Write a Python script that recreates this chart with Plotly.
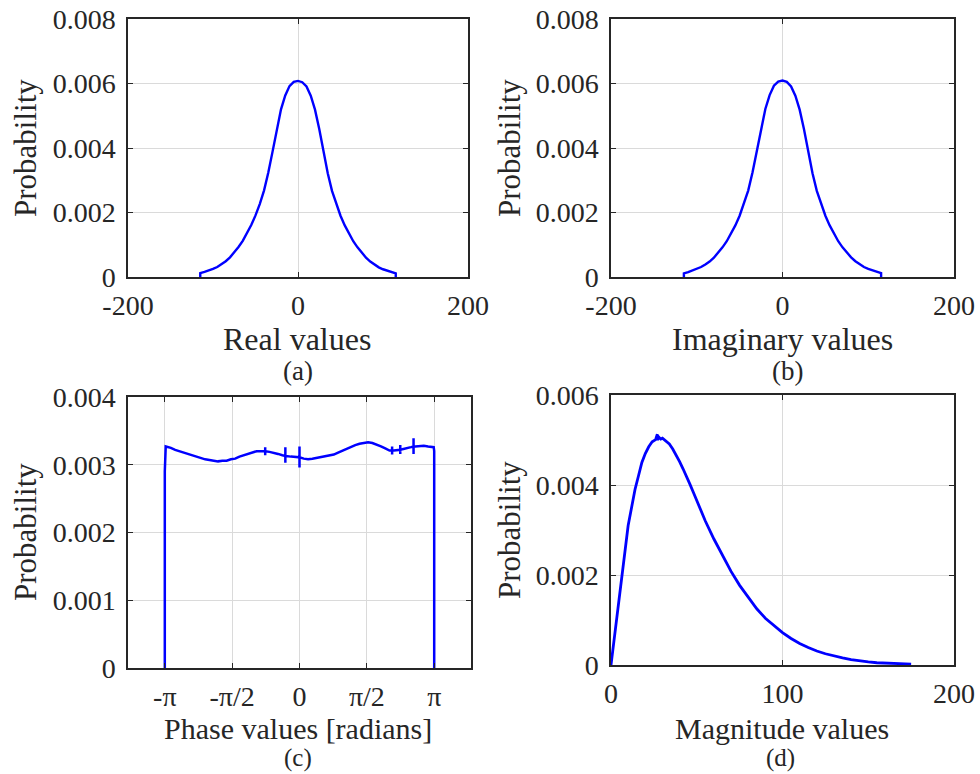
import math
import plotly.graph_objects as go

# ---------------- data ----------------
real_x = [-115, -115, -110, -105, -100, -95, -90, -85, -80, -75, -70, -65, -60, -55, -50, -45, -40, -35,
          -30, -25, -20, -15, -10, -5, 0, 5, 10, 15, 20, 25, 30, 35, 40, 45, 50, 55, 60, 65, 70, 75,
          80, 85, 90, 95, 100, 105, 110, 115, 115]
real_y = [0.0, 0.00012, 0.00016, 0.00020, 0.00025, 0.00031, 0.00039, 0.00049, 0.00061, 0.00076, 0.00093,
          0.00112, 0.00135, 0.00161, 0.00191, 0.00226, 0.00268, 0.00323, 0.00388, 0.00460, 0.00520,
          0.00563, 0.00592, 0.00605, 0.00608, 0.00604, 0.00591, 0.00562, 0.00519, 0.00459, 0.00387,
          0.00322, 0.00267, 0.00225, 0.00190, 0.00160, 0.00134, 0.00111, 0.00092, 0.00075, 0.00060,
          0.00048, 0.00038, 0.00030, 0.00024, 0.00019, 0.00015, 0.00011, 0.0]

imag_x = list(real_x)
imag_y = [0.0, 0.00011, 0.00015, 0.00020, 0.00025, 0.00031, 0.00039, 0.00048, 0.00060, 0.00075, 0.00092,
          0.00111, 0.00134, 0.00160, 0.00190, 0.00226, 0.00268, 0.00324, 0.00389, 0.00461, 0.00521,
          0.00564, 0.00593, 0.00606, 0.00609, 0.00605, 0.00591, 0.00562, 0.00519, 0.00459, 0.00387,
          0.00322, 0.00267, 0.00225, 0.00190, 0.00160, 0.00134, 0.00111, 0.00092, 0.00075, 0.00061,
          0.00049, 0.00039, 0.00031, 0.00025, 0.00020, 0.00016, 0.00012, 0.0]

phase_x = [-3.1416, -3.1416, -3.12, -3.0, -2.9, -2.8, -2.7, -2.6, -2.5, -2.4, -2.3, -2.2, -2.1, -2.0, -1.9,
           -1.8, -1.7, -1.6, -1.5, -1.4, -1.3, -1.2, -1.1, -1.0, -0.9, -0.8, -0.8, -0.8, -0.8, -0.7, -0.6,
           -0.5, -0.4, -0.33, -0.33, -0.33, -0.33, -0.2, -0.1, 0.0, 0.0, 0.0, 0.0, 0.1, 0.2, 0.3, 0.4, 0.5,
           0.6, 0.7, 0.8, 0.9, 1.0, 1.1, 1.2, 1.3, 1.4, 1.5, 1.6, 1.7, 1.8, 1.9, 2.0, 2.1, 2.16, 2.16, 2.16,
           2.16, 2.2, 2.3, 2.35, 2.35, 2.35, 2.35, 2.4, 2.5, 2.6, 2.66, 2.66, 2.66, 2.66, 2.7, 2.8, 2.9,
           3.0, 3.1, 3.13, 3.1416, 3.1416]
phase_y = [0.0, 0.00290, 0.00327, 0.00325, 0.00322, 0.00320, 0.00318, 0.00315, 0.00313, 0.00311, 0.00309,
           0.00308, 0.00307, 0.00306, 0.00305, 0.00306, 0.00306, 0.00308, 0.00309, 0.00312, 0.00314,
           0.00317, 0.00319, 0.00320, 0.00320, 0.00320, 0.00326, 0.00314, 0.00320, 0.00319, 0.00318,
           0.00316, 0.00314, 0.00313, 0.00326, 0.00303, 0.00313, 0.00312, 0.00312, 0.00311, 0.00327,
           0.00296, 0.00311, 0.00309, 0.00308, 0.00309, 0.00310, 0.00311, 0.00312, 0.00313, 0.00315,
           0.00318, 0.00321, 0.00324, 0.00327, 0.00329, 0.00331, 0.00332, 0.00333, 0.00332, 0.00330,
           0.00327, 0.00324, 0.00321, 0.00321, 0.00327, 0.00315, 0.00321, 0.00321, 0.00322, 0.00322,
           0.00329, 0.00316, 0.00322, 0.00323, 0.00325, 0.00326, 0.00327, 0.00339, 0.00316, 0.00327,
           0.00327, 0.00328, 0.00328, 0.00327, 0.00327, 0.00326, 0.00320, 0.0]

mag_x = [0, 2, 4, 6, 8, 10, 12, 14, 16, 18, 20, 22, 24, 26, 27, 27, 28, 29, 30, 32, 34, 36, 38, 40, 42,
         44, 46, 48, 50, 55, 60, 65, 70, 75, 80, 85, 90, 95, 100, 105, 110, 115, 120, 125, 130, 135,
         140, 145, 150, 155, 160, 165, 170, 175]
mag_y = [0.0, 0.0006, 0.0012, 0.0019, 0.0025, 0.0031, 0.0035, 0.0039, 0.0042, 0.0045, 0.0047, 0.00485,
         0.00496, 0.00501, 0.00513, 0.00500, 0.00506, 0.00502, 0.00504, 0.00498, 0.00491, 0.00480,
         0.00467, 0.00452, 0.00436, 0.00420, 0.00402, 0.00384, 0.00366, 0.00320, 0.00280, 0.00243,
         0.00208, 0.00177, 0.00150, 0.00125, 0.00104, 0.00087, 0.00072, 0.00059, 0.00048, 0.00039,
         0.00031, 0.00025, 0.00020, 0.00016, 0.00012, 0.00009, 0.00007, 0.00005, 0.00004, 0.00003,
         0.00002, 0.00002]

prob_ticks_a = [0, 0.002, 0.004, 0.006, 0.008]
prob_text_a = ["0", "0.002", "0.004", "0.006", "0.008"]
prob_ticks_c = [0, 0.001, 0.002, 0.003, 0.004]
prob_text_c = ["0", "0.001", "0.002", "0.003", "0.004"]
prob_ticks_d = [0, 0.002, 0.004, 0.006]
prob_text_d = ["0", "0.002", "0.004", "0.006"]
phase_ticks = [-math.pi, -math.pi / 2, 0, math.pi / 2, math.pi]
phase_text = ["-π", "-π/2", "0", "π/2", "π"]

# ---------------- figure ----------------
W, H = 980, 774
FONT = "Liberation Serif, Times New Roman, serif"
TXT = "#262626"
BLUE = "#0000ff"

fig = go.Figure()
fig.add_trace(go.Scatter(x=real_x, y=real_y, mode="lines", line=dict(color=BLUE, width=2.4),
                         xaxis="x", yaxis="y", showlegend=False))
fig.add_trace(go.Scatter(x=imag_x, y=imag_y, mode="lines", line=dict(color=BLUE, width=2.4),
                         xaxis="x2", yaxis="y2", showlegend=False))
fig.add_trace(go.Scatter(x=phase_x, y=phase_y, mode="lines", line=dict(color=BLUE, width=2.5),
                         xaxis="x3", yaxis="y3", showlegend=False))
fig.add_trace(go.Scatter(x=mag_x, y=mag_y, mode="lines", line=dict(color=BLUE, width=2.8),
                         xaxis="x4", yaxis="y4", showlegend=False))


def px2fx(p):
    return p / W


def py2fy(p):
    return 1 - p / H


common = dict(showline=True, linecolor=TXT, linewidth=1.5, mirror="ticks", ticks="inside",
              ticklen=5, tickwidth=1.2, tickcolor=TXT, showgrid=True, gridcolor="#dadada",
              gridwidth=1, zeroline=False, automargin=False,
              tickfont=dict(family=FONT, size=28, color=TXT))

panels = [
    # (x-left, x-right, y-top, y-bottom) in pixels
    (128, 468, 19, 277),
    (611, 954, 19, 277),
    (128, 471, 397, 668),
    (611, 954, 395, 665),
]

axes_cfg = [
    (dict(range=[-200, 200], tickvals=[-200, 0, 200], ticktext=["-200", "0", "200"]),
     dict(range=[0, 0.008], tickvals=prob_ticks_a, ticktext=prob_text_a)),
    (dict(range=[-200, 200], tickvals=[-200, 0, 200], ticktext=["-200", "0", "200"]),
     dict(range=[0, 0.008], tickvals=prob_ticks_a, ticktext=prob_text_a)),
    (dict(range=[-4, 4], tickvals=phase_ticks, ticktext=phase_text),
     dict(range=[0, 0.004], tickvals=prob_ticks_c, ticktext=prob_text_c)),
    (dict(range=[0, 200], tickvals=[0, 100, 200], ticktext=["0", "100", "200"]),
     dict(range=[0, 0.006], tickvals=prob_ticks_d, ticktext=prob_text_d)),
]

layout = dict(width=W, height=H, margin=dict(l=0, r=0, t=0, b=0), paper_bgcolor="white",
              plot_bgcolor="white", showlegend=False)
for i, ((xl, xr, yt, yb), (xc, yc)) in enumerate(zip(panels, axes_cfg)):
    n = "" if i == 0 else str(i + 1)
    xa = dict(common, **xc)
    xa.update(domain=[px2fx(xl), px2fx(xr)], anchor="y" + n, ticklabelstandoff=3)
    ya = dict(common, **yc)
    ya.update(domain=[py2fy(yb), py2fy(yt)], anchor="x" + n, ticklabelstandoff=5)
    layout["xaxis" + n] = xa
    layout["yaxis" + n] = ya
fig.update_layout(**layout)

# axis titles and panel letters
labels = [
    ("Real values", 297, 339, 0, 32), ("(a)", 298, 371, 0, 27), ("Probability", 25, 148, -90, 31),
    ("Imaginary values", 782, 339, 0, 32), ("(b)", 787, 371, 0, 27), ("Probability", 509, 148, -90, 31),
    ("Phase values [radians]", 298, 728, 0, 30), ("(c)", 298, 758, 0, 25),
    ("Probability", 25, 532, -90, 31),
    ("Magnitude values", 782, 728, 0, 30), ("(d)", 780, 758, 0, 25), ("Probability", 509, 530, -90, 31),
]
for text, x, y, ang, fs in labels:
    fig.add_annotation(text=text, x=px2fx(x), y=py2fy(y), xref="paper", yref="paper",
                       xanchor="center", yanchor="middle", showarrow=False, textangle=ang,
                       font=dict(family=FONT, size=fs, color=TXT))

fig.write_html("out.html")
